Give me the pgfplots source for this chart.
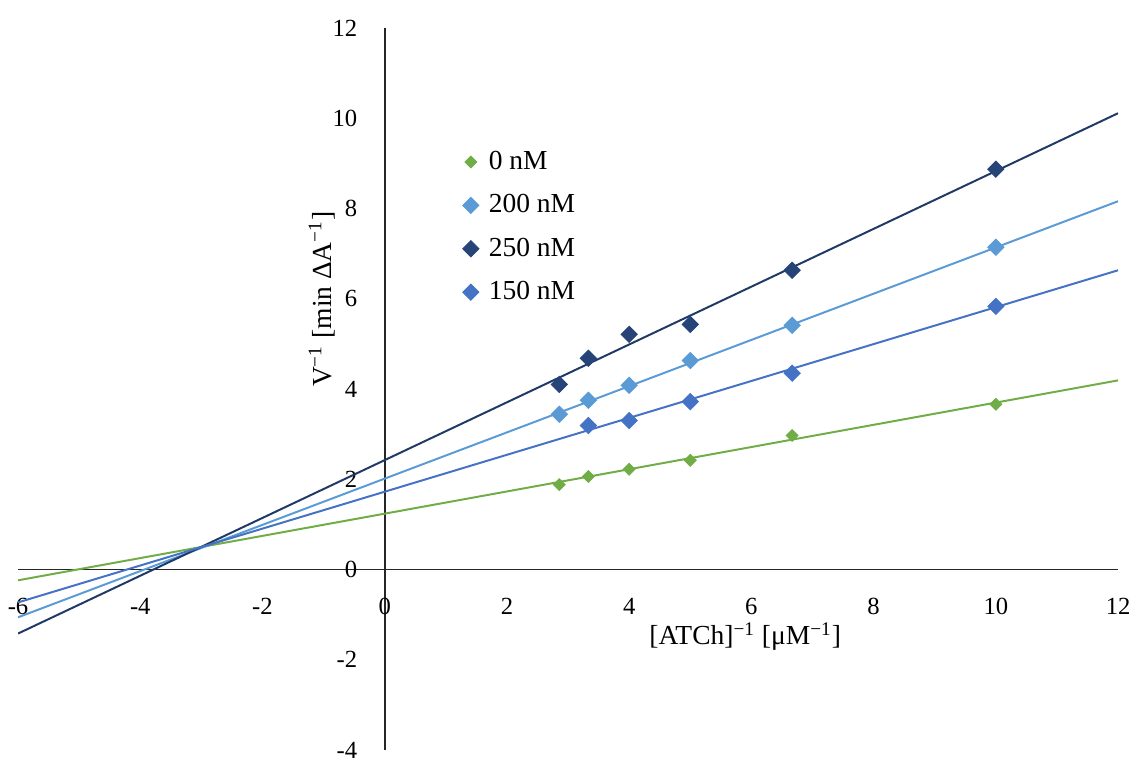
\documentclass[border=0pt]{standalone}
\usepackage{fontspec}
\setmainfont{Liberation Serif}
\usepackage{pgfplots}
\pgfplotsset{compat=1.18}

\definecolor{cZero}{HTML}{70AD47}
\definecolor{cTwoH}{HTML}{5B9BD5}
\definecolor{cTwoF}{HTML}{264478}
\definecolor{cOneF}{HTML}{4472C4}

\begin{document}
\begin{tikzpicture}
\begin{axis}[
    scale only axis,
    width=500pt, height=328.2pt,
    axis lines=middle,
    axis line style={line width=0.8pt, draw=black!85, -},
    xmin=-6, xmax=12, ymin=-4, ymax=12,
    xtick={-6,-4,...,12}, ytick={-4,-2,...,12},
    hide obscured x ticks=false, hide obscured y ticks=false,
    major tick length=0pt,
    /pgf/number format/assume math mode=true,
    tick label style={font=\fontsize{11.2}{13}\selectfont},
    xticklabel style={anchor=north, yshift=-9.5pt},
    yticklabel style={anchor=east, xshift=-9pt},
    clip=true,
    legend style={at={(axis cs:1.27,9.35)}, anchor=north west, draw=none, fill=none,
        font=\fontsize{12.5}{14}\selectfont, row sep=6.9pt, inner sep=0pt,
        nodes={inner sep=1.5pt}},
    legend cell align=left,
]
% trend lines
\addplot[cZero, line width=0.9pt, forget plot] coordinates {(-6,-0.24) (12,4.19)};
\addplot[cTwoH, line width=0.9pt, forget plot] coordinates {(-6,-1.06) (12,8.16)};
\addplot[cTwoF!85!black, line width=0.9pt, forget plot] coordinates {(-6,-1.42) (12,10.11)};
\addplot[cOneF, line width=0.9pt, forget plot] coordinates {(-6,-0.73) (12,6.63)};

% data points
\addplot[only marks, mark=square*, mark size=1.9pt, mark options={rotate=45, draw=cZero, fill=cZero}]
  coordinates {(2.857,1.88) (3.333,2.06) (4,2.22) (5,2.42) (6.667,2.97) (10,3.66)};
\addlegendentry{\hspace{3pt}0 nM}
\addplot[only marks, mark=square*, mark size=2.6pt, mark options={rotate=45, draw=cTwoH, fill=cTwoH}]
  coordinates {(2.857,3.44) (3.333,3.75) (4,4.08) (5,4.63) (6.667,5.41) (10,7.14)};
\addlegendentry{\hspace{3pt}200 nM}
\addplot[only marks, mark=square*, mark size=2.6pt, mark options={rotate=45, draw=cTwoF, fill=cTwoF}]
  coordinates {(2.857,4.10) (3.333,4.68) (4,5.21) (5,5.43) (6.667,6.63) (10,8.87)};
\addlegendentry{\hspace{3pt}250 nM}
\addplot[only marks, mark=square*, mark size=2.6pt, mark options={rotate=45, draw=cOneF, fill=cOneF}]
  coordinates {(3.333,3.19) (4,3.30) (5,3.72) (6.667,4.35) (10,5.83)};
\addlegendentry{\hspace{3pt}150 nM}

\node[font=\fontsize{12.5}{14}\selectfont] at (axis cs:5.9,-1.49) {[ATCh]\textsuperscript{−1} [μM\textsuperscript{−1}]};
\node[font=\fontsize{12.5}{14}\selectfont, rotate=90] at (axis cs:-1.03,5.99) {V\textsuperscript{−1} [min ΔA\textsuperscript{−1}]};
\end{axis}
\pgfresetboundingbox
\useasboundingbox ([shift={(-8.2pt,-3.6pt)}]current axis.south west) rectangle ([shift={(7.7pt,12.7pt)}]current axis.north east);
\end{tikzpicture}
\end{document}
